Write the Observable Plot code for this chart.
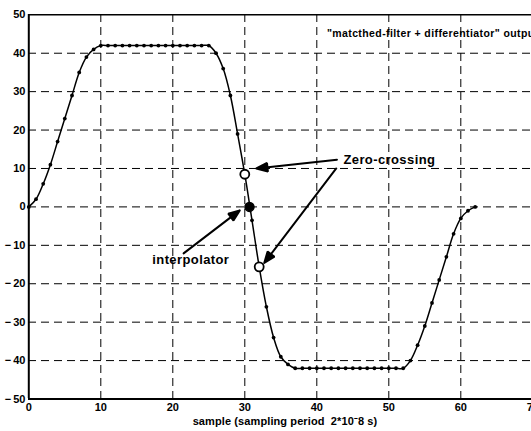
<!DOCTYPE html>
<html>
<head>
<meta charset="utf-8">
<script src="https://cdn.jsdelivr.net/npm/d3@7"></script>
<script src="https://cdn.jsdelivr.net/npm/@observablehq/plot@0.6"></script>
<style>
  html, body { margin: 0; padding: 0; background: #fff; overflow: hidden; }
  #chart svg { font-family: "Liberation Sans", Arial, sans-serif; }
  #chart svg text { font-weight: bold !important; }
</style>
</head>
<body>
<div id="chart"></div>
<script>
// Output samples (index = sample number 0..62)
const outputValues = [
  0, 2, 6, 11, 17, 23, 29, 35, 39, 41, 42,
  42, 42, 42, 42, 42, 42, 42, 42, 42, 42, 42, 42, 42, 42, 42,
  40, 36, 29, 19, 8.5, -3.5, -15.6, -26, -34, -39, -41,
  -42, -42, -42, -42, -42, -42, -42, -42, -42, -42, -42, -42, -42, -42, -42, -42,
  -40, -36, -31, -25, -19, -13, -7, -3, -1, 0
];

// Zero-crossing samples (hollow circles) and interpolated crossing (filled)
const zeroCrossX = [30, 32];
const zeroCrossY = [8.5, -15.6];
const interpX = [30.65];
const interpY = [0];

// Tick values
const xTicks = [0, 10, 20, 30, 40, 50, 60, 70];
const yTicks = [-50, -40, -30, -20, -10, 0, 10, 20, 30, 40, 50];
const xGrid = [10, 20, 30, 40, 50, 60];
const yGrid = [-40, -30, -20, -10, 0, 10, 20, 30, 40];

// Annotations (data coordinates)
const arrowX1 = [42.8, 42.7, 21.5];
const arrowY1 = [12.3, 10.0, -12.1];
const arrowX2 = [31.6, 32.7, 29.3];
const arrowY2 = [10.0, -14.6, -0.9];
const zeroLabel = "Zero-crossing";
const zeroLabelX = [43.7];
const zeroLabelY = [12.3];
const interpLabel = "interpolator";
const interpLabelX = [22.5];
const interpLabelY = [-13.9];
const titleText = "\"matcthed-filter + differentiator\" output";
const titleX = [41.4];
const titleY = [45.1];
const xLabel = "sample (sampling period  2*10\u207B8 s)";

const arrows = arrowX1.map((x, i) => ({x1: x, y1: arrowY1[i], x2: arrowX2[i], y2: arrowY2[i]}));
const yFmt = d => d < 0 ? "\u2212\u2009" + Math.abs(d) : String(d);

const chart = Plot.plot({
  width: 531,
  height: 431,
  marginLeft: 28,
  marginTop: 14,
  marginBottom: 33,
  marginRight: 0,
  style: {fontFamily: "Liberation Sans, Arial, sans-serif", fontSize: "11px", background: "#fff", color: "#000"},
  x: {domain: [0, 70], range: [28.3, 532.3]},
  y: {domain: [-50, 50], range: [398.5, 14.3]},
  marks: [
    Plot.ruleX(xGrid, {stroke: "#000", strokeWidth: 1, strokeDasharray: "8,5"}),
    Plot.ruleY(yGrid, {stroke: "#000", strokeWidth: 1, strokeDasharray: "8,5"}),
    Plot.ruleY([50], {stroke: "#000", strokeWidth: 1.5}),
    Plot.ruleY([-50], {stroke: "#000", strokeWidth: 2}),
    Plot.ruleX([0], {stroke: "#000", strokeWidth: 2}),
    Plot.axisX({ticks: xTicks, tickSize: 0, tickPadding: 5, fontSize: 11, label: null}),
    Plot.axisY({ticks: yTicks, tickSize: 0, tickPadding: 3, fontSize: 11, tickFormat: yFmt, label: null}),
    Plot.text([xLabel], {frameAnchor: "bottom", text: d => d, dx: 5, dy: 26, fontSize: 11, fill: "#000"}),
    Plot.line(outputValues, {x: (d, i) => i, y: d => d, stroke: "#000", strokeWidth: 1.5, curve: "catmull-rom"}),
    Plot.dot(outputValues, {x: (d, i) => i, y: d => d, r: 1.9, fill: "#000", stroke: null}),
    Plot.arrow(arrows, {x1: "x1", y1: "y1", x2: "x2", y2: "y2", stroke: "#000", strokeWidth: 2, headLength: 9, headAngle: 42}),
    Plot.dot(zeroCrossX, {x: d => d, y: (d, i) => zeroCrossY[i], r: 4.5, fill: "#fff", stroke: "#000", strokeWidth: 1.8}),
    Plot.dot(interpX, {x: d => d, y: (d, i) => interpY[i], r: 4.5, fill: "#000", stroke: "#000"}),
    Plot.text([zeroLabel], {x: () => zeroLabelX[0], y: () => zeroLabelY[0], text: d => d, textAnchor: "start", fontSize: 13, fill: "#000"}),
    Plot.text([interpLabel], {x: () => interpLabelX[0], y: () => interpLabelY[0], text: d => d, textAnchor: "middle", fontSize: 13, fill: "#000"}),
    Plot.text([titleText], {x: () => titleX[0], y: () => titleY[0], text: d => d, textAnchor: "start", fontSize: 10.5, fill: "#000"})
  ]
});
// Fill the arrowheads (close the head sub-path)
d3.select(chart).selectAll('g[aria-label="arrow"] path').each(function() {
  const d = this.getAttribute("d");
  if (d) { this.setAttribute("d", d + "Z"); this.setAttribute("fill", "#000"); this.setAttribute("stroke-linejoin", "miter"); }
});
// Letter spacing to match the wide bold lettering of the reference
const spacing = new Map([[zeroLabel, "0.4px"], [interpLabel, "0.4px"], [xLabel, "0.1px"], [titleText, "0.4px"]]);
d3.select(chart).selectAll("text").each(function() {
  const s = spacing.get(this.textContent);
  if (s) this.style.letterSpacing = s;
});
document.getElementById("chart").appendChild(chart);
</script>
</body>
</html>
